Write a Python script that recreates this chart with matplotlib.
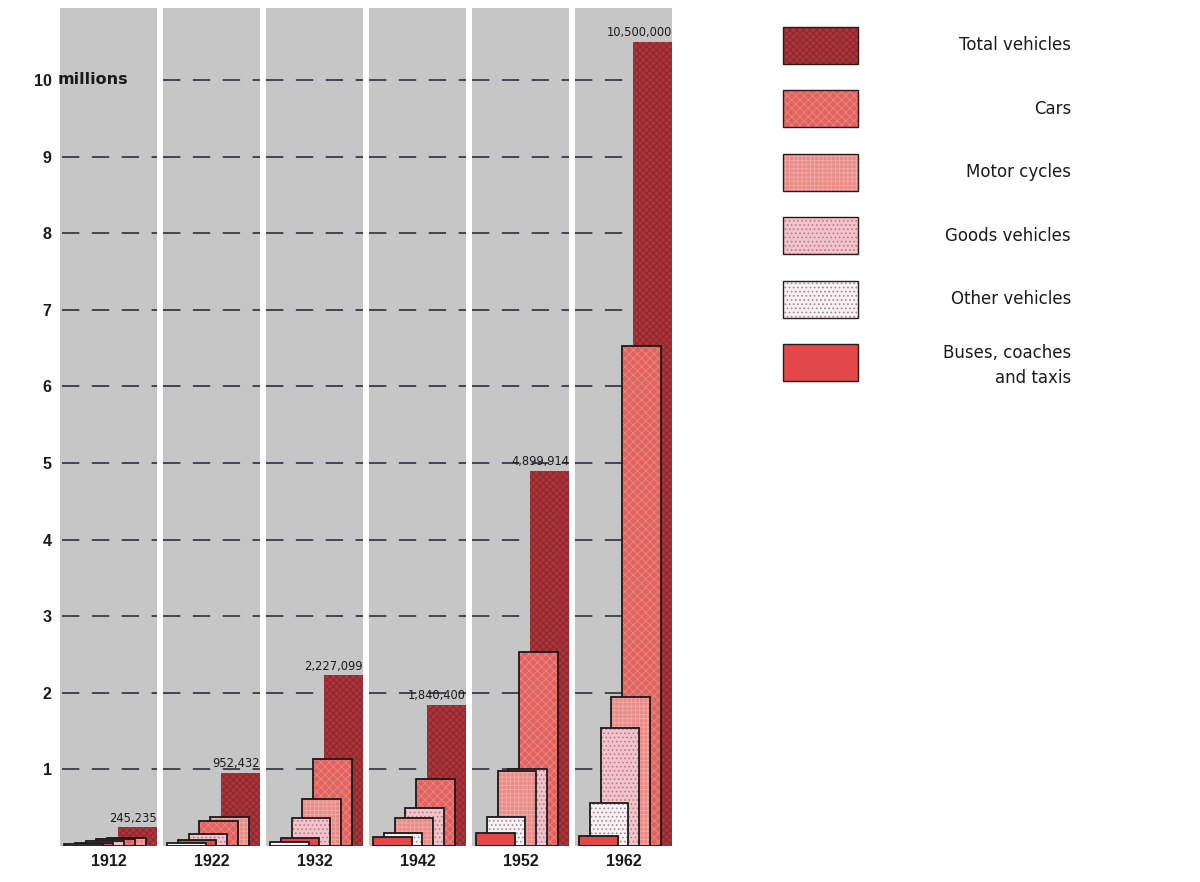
import matplotlib
matplotlib.use('Agg')
import matplotlib.pyplot as plt
from matplotlib.patches import Rectangle

# ---------------- data (millions of vehicles) ----------------
years = ['1912', '1922', '1932', '1942', '1952', '1962']
total_vehicles = [0.245235, 0.952432, 2.227099, 1.840400, 4.899914, 10.5]
total_labels = ['245,235', '952,432', '2,227,099', '1,840,400', '4,899,914', '10,500,000']
cars = [0.09, 0.32, 1.14, 0.87, 2.53, 6.53]
motor_cycles = [0.10, 0.38, 0.61, 0.36, 0.98, 1.95]
goods_vehicles = [0.06, 0.16, 0.37, 0.49, 1.00, 1.54]
other_vehicles = [0.02, 0.04, 0.05, 0.17, 0.38, 0.56]
buses_coaches_taxis = [0.035, 0.08, 0.11, 0.12, 0.17, 0.13]
y_ticks = [1, 2, 3, 4, 5, 6, 7, 8, 9, 10]
y_tick_labels = ['1', '2', '3', '4', '5', '6', '7', '8', '9', '10']
legend_labels = ['Total vehicles', 'Cars', 'Motor cycles', 'Goods vehicles',
                 'Other vehicles', 'Buses, coaches\nand taxis']

# ---------------- styles ----------------
styles = {
    'total': dict(face='#a8363b', hatch='xxxxx', hcol='#8e252b', edge=None),
    'cars': dict(face='#e2625f', hatch='xxxx', hcol='#ea8580', edge='#1a1a1a'),
    'motor': dict(face='#e98a86', hatch='++++', hcol='#f0a8a4', edge='#1a1a1a'),
    'goods': dict(face='#f0c4ca', hatch='....', hcol='#c27784', edge='#1a1a1a'),
    'other': dict(face='#f8f1f3', hatch='....', hcol='#9c8a90', edge='#1a1a1a'),
    'buses': dict(face='#e2474a', hatch=None, hcol=None, edge='#1a1a1a'),
}
series = [('cars', cars), ('motor', motor_cycles), ('goods', goods_vehicles),
          ('other', other_vehicles), ('buses', buses_coaches_taxis)]
legend_keys = ['total', 'cars', 'motor', 'goods', 'other', 'buses']

plt.rcParams['hatch.linewidth'] = 0.7
plt.rcParams['lines.scale_dashes'] = False

W, H = 1200, 882
fig = plt.figure(figsize=(12, 8.82), dpi=100)
fig.patch.set_facecolor('white')

# layout (pixels)
PX_PER_M = 76.6
AX_L, AX_R, AX_B, AX_T = 60, 672, 846, 8
PITCH, PANEL_W = 103.0, 97.0
START, STEP, BAR_W = 4.0, 10.8, 38.5

ax = fig.add_axes([AX_L / W, (H - AX_B) / H, (AX_R - AX_L) / W, (AX_B - AX_T) / H])
ax.set_xlim(0, AX_R - AX_L)
ax.set_ylim(0, (AX_B - AX_T) / PX_PER_M)
ax.patch.set_alpha(0)
for s in ax.spines.values():
    s.set_visible(False)

ymax = (AX_B - AX_T) / PX_PER_M
for i, yr in enumerate(years):
    left = i * PITCH
    ax.add_patch(Rectangle((left, 0), PANEL_W, ymax, facecolor='#c6c6c6',
                           edgecolor='none', zorder=0))
    for yv in y_ticks:
        if i == 0 and yv == 10:
            continue
        x0 = left + (2 if i == 0 else 0)
        ln, = ax.plot([x0, left + PANEL_W], [yv, yv], color='#3a3a44', lw=1.3,
                      zorder=1, solid_capstyle='butt', dash_capstyle='butt')
        ln.set_dashes((12.5, 9))

    vals = [(vals_[i], key) for key, vals_ in series]
    vals.sort(key=lambda t: t[0])
    vals.append((total_vehicles[i], 'total'))
    for k, (v, key) in enumerate(vals):
        st = styles[key]
        x = left + START + k * STEP
        z = 20 - 2 * k
        ax.bar(x, v, width=BAR_W, align='edge', color=st['face'],
               hatch=st['hatch'], edgecolor=st['hcol'] if st['hcol'] else st['face'],
               linewidth=0, zorder=z)
        if st['edge']:
            ax.bar(x, v, width=BAR_W, align='edge', fill=False,
                   edgecolor=st['edge'], linewidth=1.3, zorder=z + 0.5)
    ax.annotate(total_labels[i], xy=(left + PANEL_W, total_vehicles[i]),
                xytext=(0, 4), textcoords='offset points', ha='right', va='baseline',
                fontsize=8.3, family='DejaVu Sans', color='#1a1a1a', zorder=30)

ax.set_xticks([i * PITCH + PANEL_W / 2 for i in range(len(years))])
ax.set_xticklabels(years, family='Liberation Sans', fontweight='bold', fontsize=11.5,
                   color='#1a1a1a')
ax.set_yticks(y_ticks)
ax.set_yticklabels(y_tick_labels, family='Liberation Sans', fontweight='bold',
                   fontsize=11.5, color='#1a1a1a')
ax.tick_params(axis='both', length=0)
ax.tick_params(axis='x', pad=6)
ax.tick_params(axis='y', pad=6)
ax.annotate('millions', xy=(0, 10), xycoords=('axes fraction', 'data'),
            xytext=(-2, 0), textcoords='offset points', ha='left', va='center',
            family='DejaVu Sans', fontweight='bold', fontsize=11.5, color='#1a1a1a',
            zorder=30)

# ---------------- legend (pixel coordinates) ----------------
lax = fig.add_axes([0, 0, 1, 1], zorder=-1)
lax.set_xlim(0, W)
lax.set_ylim(H, 0)
lax.axis('off')
SW_L, SW_W, SW_H, SW_T0, SW_PITCH = 783, 75, 37, 27, 63.4
for k, (key, lab) in enumerate(zip(legend_keys, legend_labels)):
    st = styles[key]
    top = SW_T0 + k * SW_PITCH
    lax.add_patch(Rectangle((SW_L, top), SW_W, SW_H, facecolor=st['face'],
                            hatch=st['hatch'],
                            edgecolor=st['hcol'] if st['hcol'] else st['face'], lw=0))
    lax.add_patch(Rectangle((SW_L, top), SW_W, SW_H, fill=False,
                            edgecolor='#2a1a1a', lw=1.0))
    lax.text(1071, top + SW_H / 2 + (3 if '\n' in lab else 0), lab, ha='right',
             va='center', fontsize=12, family='DejaVu Sans', color='#1a1a1a',
             linespacing=1.45, multialignment='right')

fig.savefig('out.png', dpi=100, facecolor='white')
